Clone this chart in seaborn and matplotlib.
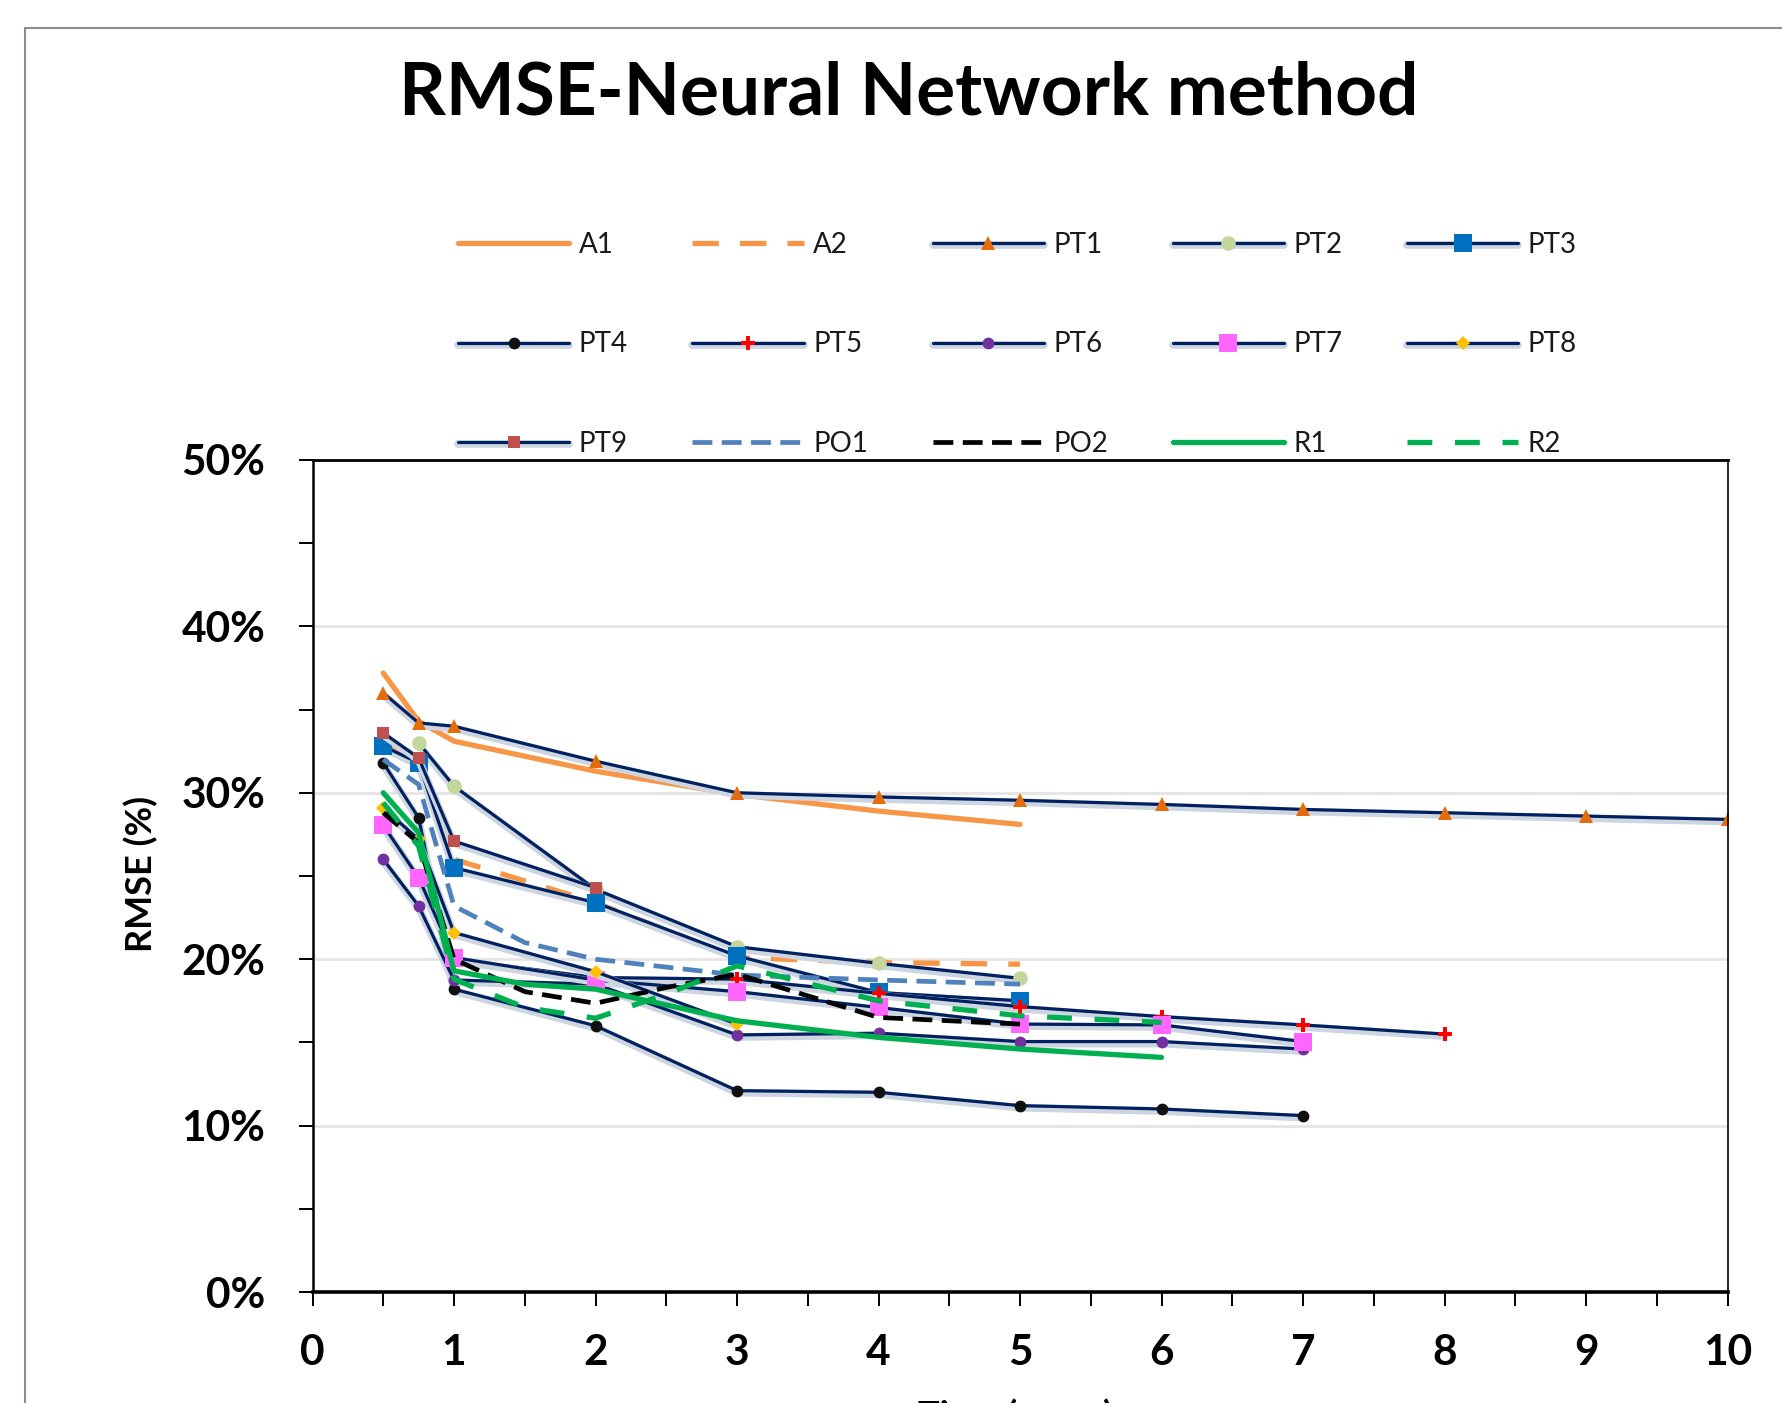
import matplotlib
matplotlib.use("Agg")
import matplotlib.pyplot as plt
import matplotlib.patheffects as pe
from matplotlib.patches import Rectangle
from matplotlib.ticker import MultipleLocator, FuncFormatter
import seaborn as sns

# RMSE (%) per method; x = time (years)
x_a1 = [0.5, 0.75, 1, 1.5, 2, 3, 4, 5]
a1 = [37.2, 34.3, 33.1, 32.2, 31.3, 29.9, 28.9, 28.1]
x_a2 = [0.5, 0.75, 1, 2, 3, 4, 5]
a2 = [33.0, 31.5, 26.0, 23.4, 20.1, 19.8, 19.7]
x_pt1 = [0.5, 0.75, 1, 2, 3, 4, 5, 6, 7, 8, 9, 10]
pt1 = [36.0, 34.2, 34.0, 31.9, 30.0, 29.75, 29.55, 29.3, 29.0, 28.8, 28.6, 28.4]
x_pt2 = [0.75, 1, 2, 3, 4, 5]
pt2 = [33.0, 30.4, 24.2, 20.75, 19.75, 18.85]
x_pt3 = [0.5, 0.75, 1, 2, 3, 4, 5]
pt3 = [32.8, 31.8, 25.5, 23.4, 20.2, 18.0, 17.5]
x_pt4 = [0.5, 0.75, 1, 2, 3, 4, 5, 6, 7]
pt4 = [31.8, 28.5, 18.2, 16.0, 12.1, 12.0, 11.2, 11.0, 10.6]
x_pt5 = [0.5, 0.75, 1, 2, 3, 4, 5, 6, 7, 8]
pt5 = [28.1, 24.9, 20.0, 18.9, 18.8, 17.95, 17.15, 16.55, 16.05, 15.5]
x_pt6 = [0.5, 0.75, 1, 2, 3, 4, 5, 6, 7]
pt6 = [26.0, 23.2, 18.75, 18.5, 15.45, 15.55, 15.05, 15.05, 14.6]
x_pt7 = [0.5, 0.75, 1, 2, 3, 4, 5, 6, 7]
pt7 = [28.05, 24.9, 20.1, 18.75, 18.05, 17.1, 16.1, 16.05, 15.05]
x_pt8 = [0.5, 0.75, 1, 2, 3]
pt8 = [29.1, 27.2, 21.6, 19.25, 16.1]
x_pt9 = [0.5, 0.75, 1, 2]
pt9 = [33.6, 32.1, 27.1, 24.3]
x_po1 = [0.5, 0.75, 1, 1.5, 2, 3, 4, 5]
po1 = [32.0, 30.5, 23.2, 21.0, 20.0, 19.05, 18.75, 18.5]
x_po2 = [0.5, 0.75, 1, 1.5, 2, 2.5, 3, 4, 5]
po2 = [28.8, 27.0, 20.0, 18.05, 17.35, 18.3, 19.1, 16.5, 16.1]
x_r1 = [0.5, 0.75, 1, 1.5, 2, 3, 4, 5, 6]
r1 = [30.0, 27.6, 19.3, 18.5, 18.2, 16.3, 15.3, 14.6, 14.1]
x_r2 = [0.5, 0.75, 1, 1.5, 2, 2.5, 3, 4, 5, 6]
r2 = [29.4, 26.8, 18.8, 17.1, 16.45, 17.9, 19.6, 17.5, 16.6, 16.2]

x_ticks = list(range(0, 11))
y_ticks = [0, 10, 20, 30, 40, 50]

navy = "#002060"
shadow = [pe.Stroke(offset=(0, -1.5), linewidth=5.5, foreground="#CDD5E1"), pe.Normal()]

series = [
    ("A1", x_a1, a1, dict(color="#F79646", linewidth=3.8)),
    ("A2", x_a2, a2, dict(color="#F79646", linewidth=3.8, linestyle=(0, (5, 4)))),
    ("PT1", x_pt1, pt1, dict(marker="^", markersize=10, color="#E46C0A")),
    ("PT2", x_pt2, pt2, dict(marker="o", markersize=10.5, color="#C3D69B")),
    ("PT3", x_pt3, pt3, dict(marker="s", markersize=12.5, color="#0070C0")),
    ("PT4", x_pt4, pt4, dict(marker="o", markersize=8.5, color="#111111")),
    ("PT5", x_pt5, pt5, dict(marker="P", markersize=10, color="#FF0000")),
    ("PT6", x_pt6, pt6, dict(marker="o", markersize=8.5, color="#7030A0")),
    ("PT7", x_pt7, pt7, dict(marker="s", markersize=12.5, color="#FF66FF")),
    ("PT8", x_pt8, pt8, dict(marker="D", markersize=7.5, color="#FFC000")),
    ("PT9", x_pt9, pt9, dict(marker="s", markersize=8.5, color="#C0504D")),
    ("PO1", x_po1, po1, dict(color="#4F81BD", linewidth=3.4, linestyle=(0, (4.2, 2)))),
    ("PO2", x_po2, po2, dict(color="#000000", linewidth=3.4, linestyle=(0, (4.2, 2)))),
    ("R1", x_r1, r1, dict(color="#00B050", linewidth=3.8)),
    ("R2", x_r2, r2, dict(color="#00B050", linewidth=3.8, linestyle=(0, (4.7, 4.3)))),
]

sns.set_style("white")
plt.rcParams["font.family"] = ["Lato", "DejaVu Sans"]
plt.rcParams.update({"text.color": "black", "axes.labelcolor": "black",
                     "xtick.color": "black", "ytick.color": "black"})

fig = plt.figure(figsize=(17.82, 14.03), dpi=100)
ax = fig.add_axes([312.5 / 1782, 1 - 1292 / 1403, 1415 / 1782, 832 / 1403])

handles, labels = [], []
for name, xs, ys, style in series:
    if "marker" in style:
        # navy connecting line with a soft shadow, then the coloured markers on top
        sns.lineplot(x=xs, y=ys, ax=ax, errorbar=None, sort=False, color=navy,
                     linewidth=2.3, path_effects=shadow)
        line = ax.lines[-1]
        sns.lineplot(x=xs, y=ys, ax=ax, errorbar=None, sort=False, linestyle="none",
                     marker=style["marker"], markersize=style["markersize"],
                     markerfacecolor=style["color"], markeredgewidth=0, color=style["color"])
        handles.append((line, ax.lines[-1]))
    else:
        sns.lineplot(x=xs, y=ys, ax=ax, errorbar=None, sort=False, **style)
        handles.append(ax.lines[-1])
    labels.append(name)

ax.set_xlim(0, 10)
ax.set_ylim(0, 50)
ax.set_xticks(x_ticks)
ax.xaxis.set_minor_locator(MultipleLocator(0.5))
ax.set_yticks(y_ticks)
ax.yaxis.set_minor_locator(MultipleLocator(5))
ax.yaxis.set_major_formatter(FuncFormatter(lambda v, p: f"{v:.0f}%"))
ax.tick_params(axis="both", which="both", direction="out", length=10, width=1.4,
               color="black", labelsize=30.5)
ax.tick_params(axis="y", which="both", left=True, pad=24)
ax.tick_params(axis="x", which="both", bottom=True, pad=20)
for lab in ax.get_xticklabels() + ax.get_yticklabels():
    lab.set_fontweight("bold")

ax.grid(axis="y", which="major", color="#E5E5E5", linewidth=2)
ax.set_axisbelow(True)
for side, lw in [("left", 1.8), ("bottom", 2.6), ("top", 2.0), ("right", 1.2)]:
    ax.spines[side].set_visible(True)
    ax.spines[side].set_color("black")
    ax.spines[side].set_linewidth(lw)

ax.set_ylabel("RMSE (%)", fontsize=26, fontweight="bold", va="center")
ax.yaxis.set_label_coords(-0.1212, 0.503)
ax.set_xlabel("Time (years)", fontsize=26, fontweight="bold", va="top")
ax.xaxis.set_label_coords(0.497, -0.128)

fig.text(0.510, 1 - 94 / 1403, "RMSE-Neural Network method", ha="center", va="center",
         fontsize=52.5, fontweight="bold", color="black")

# legend: matplotlib fills column by column, the chart reads row by row
order = [0, 5, 10, 1, 6, 11, 2, 7, 12, 3, 8, 13, 4, 9, 14]
leg = ax.legend([handles[i] for i in order], [labels[i] for i in order],
                loc="upper left", bbox_to_anchor=(458 / 1782, 1 - 232 / 1403),
                bbox_transform=fig.transFigure, ncol=5, frameon=False, fontsize=20,
                borderpad=0, borderaxespad=0, handlelength=4.0, handletextpad=0.35,
                labelspacing=2.64, columnspacing=2.32, numpoints=1)
for t in leg.get_texts():
    t.set_color("#1a1a1a")

fig.add_artist(Rectangle((25 / 1782, -0.05), 1.5, 1.05 - 28 / 1403, transform=fig.transFigure,
                         fill=False, edgecolor="#8C8C8C", linewidth=1.5))

fig.savefig("out.png", dpi=100)
